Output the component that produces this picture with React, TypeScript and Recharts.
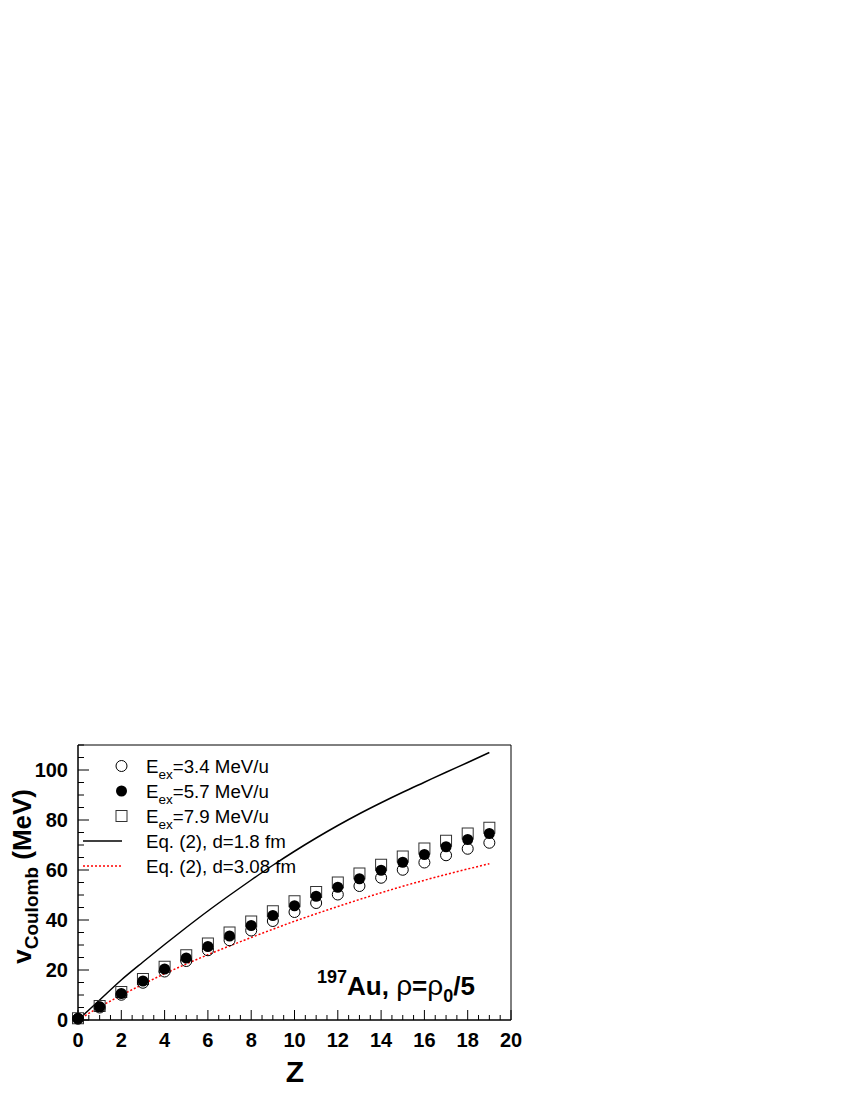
import React from 'react'
import { ComposedChart, Line, Scatter, XAxis, YAxis, ReferenceArea, Customized } from 'recharts'

const FONT = '"Liberation Sans", Arial, Helvetica, sans-serif'

// Z of the fragment
const Z_VALUES = [0, 1, 2, 3, 4, 5, 6, 7, 8, 9, 10, 11, 12, 13, 14, 15, 16, 17, 18, 19]

// simulated Coulomb velocity (MeV) for three excitation energies
const EEX_34 = [0.5, 5.0, 10.1, 14.9, 19.4, 23.6, 27.9, 31.9, 35.8, 39.6, 43.2, 46.8, 50.2, 53.6, 56.9, 60.1, 63.0, 65.9, 68.5, 70.9]
const EEX_57 = [0.6, 5.3, 10.6, 15.6, 20.4, 24.8, 29.4, 33.6, 37.8, 41.8, 45.7, 49.5, 53.1, 56.5, 59.9, 63.1, 66.2, 69.3, 72.2, 74.6]
const EEX_79 = [0.7, 5.6, 11.2, 16.4, 21.3, 25.9, 30.6, 35.0, 39.4, 43.5, 47.5, 51.2, 55.0, 58.6, 62.1, 65.4, 68.6, 71.7, 74.6, 76.9]

// Eq. (2) curves
const EQ2_D18 = [0, 8.0, 16.0, 23.2, 30.2, 37.0, 43.6, 49.9, 56.0, 61.9, 67.5, 72.8, 77.8, 82.5, 86.9, 91.1, 95.1, 99.1, 103.0, 107.0]
const EQ2_D308 = [0, 5.2, 9.9, 14.3, 18.5, 22.4, 26.1, 29.6, 33.0, 36.3, 39.5, 42.5, 45.4, 48.2, 50.9, 53.5, 55.9, 58.2, 60.4, 62.5]

const X_MAJOR = [0, 2, 4, 6, 8, 10, 12, 14, 16, 18, 20]
const Y_MAJOR = [0, 20, 40, 60, 80, 100]

const X_TICKS: number[] = []
for (let v = 0; v <= 20; v += 0.5) X_TICKS.push(v)
const Y_TICKS: number[] = []
for (let v = 0; v <= 110; v += 5) Y_TICKS.push(v)

const rows = Z_VALUES.map((z, i) => ({
  z,
  e34: EEX_34[i],
  e57: EEX_57[i],
  e79: EEX_79[i],
  d18: EQ2_D18[i],
  d308: EQ2_D308[i],
}))

function XTick(props: any) {
  const { x, y, payload } = props
  const major = X_MAJOR.includes(payload.value)
  return (
    <g>
      <line x1={x} x2={x} y1={y} y2={y - (major ? 10 : 5)} stroke="#000" strokeWidth={1} />
      {major && (
        <text x={x} y={y + 27} textAnchor="middle" fontFamily={FONT} fontWeight="bold" fontSize={20} fill="#000">
          {payload.value}
        </text>
      )}
    </g>
  )
}

function YTick(props: any) {
  const { x, y, payload } = props
  const major = Y_MAJOR.includes(payload.value)
  return (
    <g>
      <line x1={x} x2={x + (major ? 11 : 6)} y1={y} y2={y} stroke="#000" strokeWidth={1} />
      {major && (
        <text x={x - 10} y={y + 7} textAnchor="end" fontFamily={FONT} fontWeight="bold" fontSize={20} fill="#000">
          {payload.value}
        </text>
      )}
    </g>
  )
}

const openCircle = (p: any) => <circle cx={p.cx} cy={p.cy} r={5.5} fill="none" stroke="#000" strokeWidth={1} />
const fullCircle = (p: any) => <circle cx={p.cx} cy={p.cy} r={5.5} fill="#000" />
const openSquare = (p: any) => (
  <rect x={p.cx - 5.5} y={p.cy - 5.5} width={11} height={11} fill="none" stroke="#333" strokeWidth={1} />
)

function Overlay() {
  const lx = 121.5
  const tx = 146
  const rowsY = [766, 791, 816, 841, 866]
  return (
    <g fontFamily={FONT} fill="#000">
      {/* legend */}
      <circle cx={lx} cy={rowsY[0]} r={5.5} fill="none" stroke="#000" />
      <circle cx={lx} cy={rowsY[1]} r={5.5} fill="#000" />
      <rect x={lx - 5.5} y={rowsY[2] - 5.5} width={11} height={11} fill="none" stroke="#333" />
      <line x1={83} x2={122} y1={rowsY[3]} y2={rowsY[3]} stroke="#000" strokeWidth={1.5} />
      <line x1={83} x2={122} y1={rowsY[4]} y2={rowsY[4]} stroke="#ff0000" strokeWidth={1.5} strokeDasharray="2 2" />
      {['3.4', '5.7', '7.9'].map((e, i) => (
        <text key={e} x={tx} y={rowsY[i] + 7} fontSize={18.7}>
          E<tspan fontSize={13.5} dy={6}>ex</tspan>
          <tspan dy={-6}>={e} MeV/u</tspan>
        </text>
      ))}
      <text x={tx} y={rowsY[3] + 7} fontSize={18.7}>Eq. (2), d=1.8 fm</text>
      <text x={tx} y={rowsY[4] + 7} fontSize={18.7}>Eq. (2), d=3.08 fm</text>

      {/* axis titles */}
      <text transform="translate(31,789) rotate(-90)" textAnchor="end" fontWeight="bold" fontSize={26}>
        v<tspan fontSize={19} dy={7}>Coulomb</tspan>
        <tspan dy={-7}> (MeV)</tspan>
      </text>
      <text x={295} y={1082} textAnchor="middle" fontWeight="bold" fontSize={30}>Z</text>

      {/* annotation */}
      <text x={317} y={995} fontSize={26} fontWeight="bold">
        <tspan fontSize={18} dy={-12}>197</tspan>
        <tspan dy={12}>Au, </tspan>
        <tspan fontWeight="normal" fontSize={28}>ρ</tspan>
        <tspan>=</tspan>
        <tspan fontWeight="normal" fontSize={28}>ρ</tspan>
        <tspan fontSize={18} dy={7}>0</tspan>
        <tspan dy={-7}>/5</tspan>
      </text>
    </g>
  )
}

export default function App() {
  return (
    <div style={{ position: 'absolute', left: 0, top: 0, width: 850, height: 1100, background: '#fff' }}>
      <ComposedChart width={850} height={1100} data={rows} margin={{ top: 745, right: 339, bottom: 40, left: 18 }}>
        <XAxis
          dataKey="z"
          type="number"
          domain={[0, 20]}
          ticks={X_TICKS}
          interval={0}
          tickSize={0}
          tickMargin={0}
          tick={XTick}
          axisLine={{ stroke: '#000' }}
          height={40}
        />
        <YAxis
          type="number"
          domain={[0, 110]}
          ticks={Y_TICKS}
          interval={0}
          tickSize={0}
          tickMargin={0}
          tick={YTick}
          axisLine={{ stroke: '#000' }}
          width={60}
        />
        <ReferenceArea x1={0} x2={20} y1={0} y2={110} fill="none" fillOpacity={0} stroke="#000" strokeWidth={1} />
        <Line dataKey="d18" type="monotone" stroke="#000" strokeWidth={1.5} dot={false} isAnimationActive={false} />
        <Line dataKey="d308" type="monotone" stroke="#ff0000" strokeWidth={1.5} strokeDasharray="2 2" dot={false} isAnimationActive={false} />
        <Scatter dataKey="e79" shape={openSquare} isAnimationActive={false} />
        <Scatter dataKey="e34" shape={openCircle} isAnimationActive={false} />
        <Scatter dataKey="e57" shape={fullCircle} isAnimationActive={false} />
        <Customized component={Overlay} />
      </ComposedChart>
    </div>
  )
}
